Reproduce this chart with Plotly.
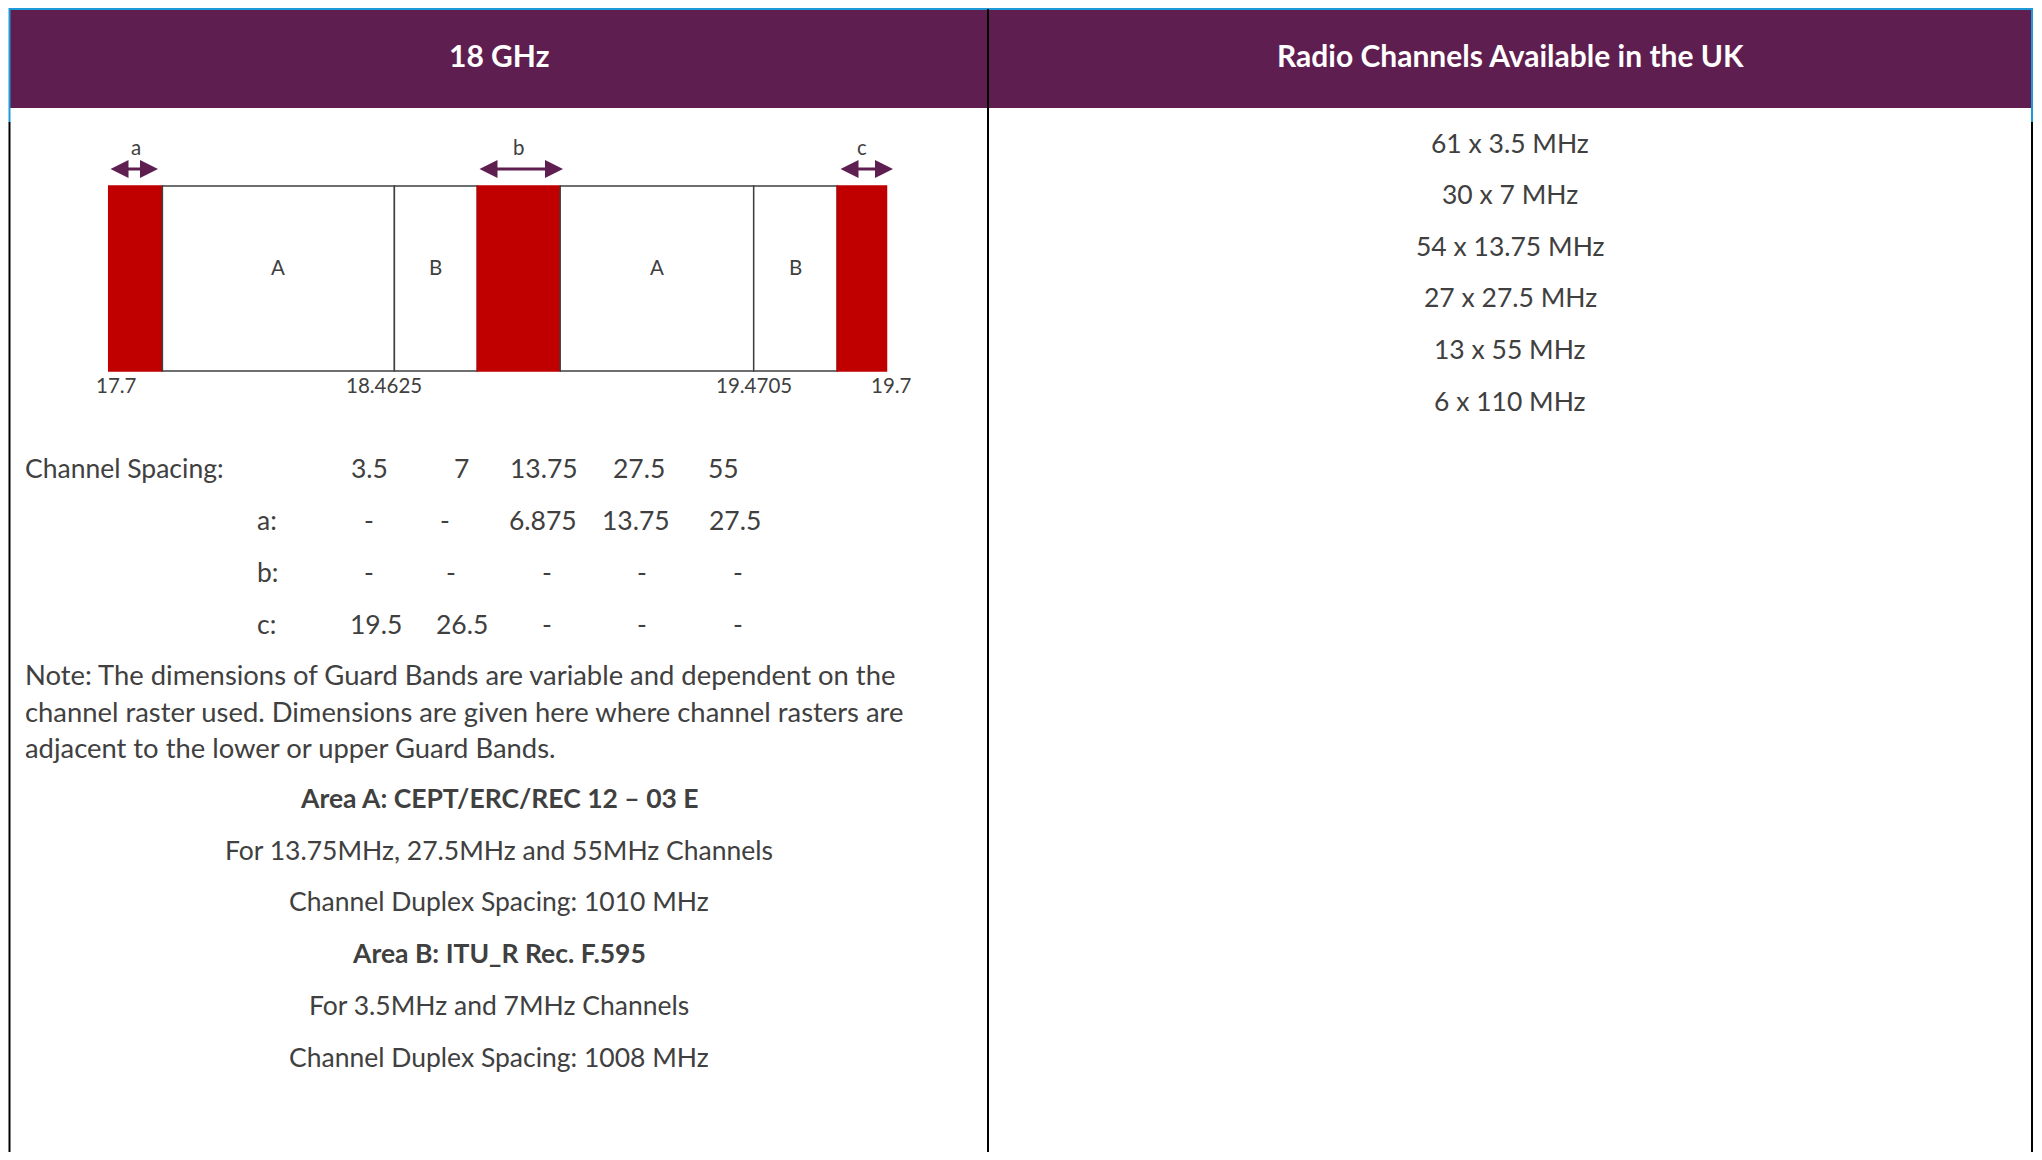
import plotly.graph_objects as go

# page (reference) size and figure size (browser body margin of 8px around figure)
PW, PH = 2042, 1160
OFF = 8
FW, FH = PW - 2 * OFF, PH - 2 * OFF

# ---------------- data ----------------
header_left = "18 GHz"
header_right = "Radio Channels Available in the UK"

# schematic band plan (widths in schematic units, as drawn)
segment_labels = ["a", "A", "B", "b", "A", "B", "c"]
segment_kind = ["guard", "A", "B", "guard", "A", "B", "guard"]
segment_widths = [53.7, 232.0, 82.9, 82.9, 193.5, 83.5, 49.3]
freq_labels = ["17.7", "18.4625", "19.4705", "19.7"]
freq_label_pos = [7.5, 275.5, 645.5, 782.5]
# guard-band arrow extents as drawn (schematic units)
arrow_start = [0.3, 369.3, 730.3]
arrow_end = [49.3, 454.3, 784.3]

table_header = "Channel Spacing:"
channel_spacing = ["3.5", "7", "13.75", "27.5", "55"]
row_names = ["a:", "b:", "c:"]
guard_a = ["-", "-", "6.875", "13.75", "27.5"]
guard_b = ["-", "-", "-", "-", "-"]
guard_c = ["19.5", "26.5", "-", "-", "-"]

note_lines = [
    "Note: The dimensions of Guard Bands are variable and dependent on the",
    "channel raster used. Dimensions are given here where channel rasters are",
    "adjacent to the lower or upper Guard Bands.",
]
info_lines = [
    ("Area A: CEPT/ERC/REC 12 \u2013 03 E", True),
    ("For 13.75MHz, 27.5MHz and 55MHz Channels", False),
    ("Channel Duplex Spacing: 1010 MHz", False),
    ("Area B: ITU_R Rec. F.595", True),
    ("For 3.5MHz and 7MHz Channels", False),
    ("Channel Duplex Spacing: 1008 MHz", False),
]

channel_counts = [61, 30, 54, 27, 13, 6]
channel_sizes = ["3.5", "7", "13.75", "27.5", "55", "110"]

# ---------------- style ----------------
FONT = "Lato"
TXT = "#404040"
PURPLE = "#5F1E50"
RED = "#C00000"
BLUE = "#1E9BD7"
BODY = 26.5
NOTE = 27.4
SMALL = 20.5
HEAD = 30


def X(px):
    return (px - OFF) / FW


def Y(py):
    return 1 - (py - OFF) / FH


fig = go.Figure()

# band plan bars
centers = []
pos = 0.0
for w in segment_widths:
    centers.append(pos + w / 2)
    pos += w
total = pos
colors = [RED if k == "guard" else "white" for k in segment_kind]
line_colors = [RED if k == "guard" else "#404040" for k in segment_kind]
fig.add_trace(go.Bar(
    x=centers, y=[1] * len(centers), width=segment_widths, base=0,
    marker=dict(color=colors, line=dict(color=line_colors, width=1.5)),
    hoverinfo="skip", showlegend=False,
))

# diagram axis geometry (reference pixels)
BOX_L, BOX_R, BOX_T, BOX_B = 108.7, 886.5, 186.0, 371.0
UX = (BOX_R - BOX_L) / total  # px per schematic unit
UY = BOX_B - BOX_T            # px per y unit
DOM_L, DOM_R, DOM_T, DOM_B = 60.0, 940.0, 125.0, 405.0
x_range = [-(BOX_L - DOM_L) / UX, total + (DOM_R - BOX_R) / UX]
y_range = [-(DOM_B - BOX_B) / UY, 1 + (BOX_T - DOM_T) / UY]

annotations = []
# area labels inside boxes
for c, lab, k in zip(centers, segment_labels, segment_kind):
    if k != "guard":
        annotations.append(dict(x=c, y=0.56, xref="x", yref="y", text=lab, showarrow=False,
                                font=dict(family=FONT, size=SMALL, color=TXT)))
# guard band arrows and letters
arrow_y = (BOX_B - 169) / UY
letter_y = (BOX_B - 147) / UY
guard_idx = [i for i, k in enumerate(segment_kind) if k == "guard"]
for gi, s, e in zip(guard_idx, arrow_start, arrow_end):
    annotations.append(dict(x=e, y=arrow_y, ax=s, ay=arrow_y,
                            xref="x", yref="y", axref="x", ayref="y",
                            text="", showarrow=True, arrowside="end+start",
                            arrowhead=2, arrowsize=1.2, arrowwidth=3, arrowcolor=PURPLE))
    annotations.append(dict(x=centers[gi], y=letter_y, xref="x", yref="y",
                            text=segment_labels[gi], showarrow=False,
                            font=dict(family=FONT, size=SMALL, color=TXT)))
# frequency labels
tick_y = -(385 - BOX_B) / UY
for p, lab in zip(freq_label_pos, freq_labels):
    annotations.append(dict(x=p, y=tick_y, xref="x", yref="y", text=lab, showarrow=False,
                            font=dict(family=FONT, size=SMALL, color=TXT)))


def txt(px, py, text, size=BODY, color=TXT, bold=False, anchor="center"):
    annotations.append(dict(
        x=X(px), y=Y(py), xref="paper", yref="paper",
        text=f"<b>{text}</b>" if bold else text, showarrow=False,
        xanchor=anchor, yanchor="middle",
        font=dict(family=FONT, size=size, color=color)))


# headers
txt(499, 55, header_left, size=HEAD, color="white", bold=True)
txt(1510, 55, header_right, size=HEAD, color="white", bold=True)

# table
row_y = [467.5, 519.6, 571.7, 623.8]
cell_x = [
    [369.2, 461.0, 543.7, 638.8, 723.4],
    [368.6, 445.4, 543.0, 636.2, 735.2],
    [368.6, 450.6, 547.0, 642.0, 738.4],
    [375.7, 461.7, 547.0, 642.0, 738.4],
]
txt(23, row_y[0], table_header, anchor="left")
rows = [channel_spacing, guard_a, guard_b, guard_c]
for i, name in enumerate(row_names):
    txt(255, row_y[i + 1], name, anchor="left")
for r, vals in enumerate(rows):
    for cx, v in zip(cell_x[r], vals):
        txt(cx, row_y[r], v)

for i, line in enumerate(note_lines):
    txt(23, 674.6 + i * 36.5, line, size=NOTE, anchor="left")

info_y = [798.3, 850.4, 901.2, 953.3, 1005.4, 1057.4]
for (line, b), yy in zip(info_lines, info_y):
    txt(499, yy, line, bold=b)

right_y = [143.3, 194.0, 246.0, 297.0, 349.0, 401.0]
for n, s, yy in zip(channel_counts, channel_sizes, right_y):
    txt(1510, yy, f"{n} x {s} MHz")

shapes = [
    # header band
    dict(type="rect", xref="paper", yref="paper", x0=X(10), x1=X(2031), y0=Y(108), y1=Y(8.5),
         fillcolor=PURPLE, line=dict(width=0), layer="below"),
    # top blue line
    dict(type="line", xref="paper", yref="paper", x0=X(9), x1=X(2033), y0=Y(9), y1=Y(9),
         line=dict(color=BLUE, width=2)),
    # left border
    dict(type="line", xref="paper", yref="paper", x0=X(9.5), x1=X(9.5), y0=Y(8), y1=Y(122),
         line=dict(color=BLUE, width=2)),
    dict(type="line", xref="paper", yref="paper", x0=X(9.5), x1=X(9.5), y0=Y(122), y1=Y(1170),
         line=dict(color="black", width=2)),
    # right border
    dict(type="line", xref="paper", yref="paper", x0=X(2032), x1=X(2032), y0=Y(8), y1=Y(122),
         line=dict(color=BLUE, width=2)),
    dict(type="line", xref="paper", yref="paper", x0=X(2032), x1=X(2032), y0=Y(122), y1=Y(1170),
         line=dict(color="black", width=2)),
    # divider
    dict(type="line", xref="paper", yref="paper", x0=X(988), x1=X(988), y0=Y(9), y1=Y(1170),
         line=dict(color="black", width=2)),
]

fig.update_layout(
    width=FW, height=FH,
    margin=dict(l=0, r=0, t=0, b=0),
    paper_bgcolor="white", plot_bgcolor="rgba(0,0,0,0)",
    showlegend=False,
    xaxis=dict(domain=[X(DOM_L), X(DOM_R)], range=x_range, showgrid=False, zeroline=False,
               showline=False, showticklabels=False, ticks="", fixedrange=True),
    yaxis=dict(domain=[Y(DOM_B), Y(DOM_T)], range=y_range, showgrid=False, zeroline=False,
               showline=False, showticklabels=False, ticks="", fixedrange=True),
    annotations=annotations,
    shapes=shapes,
    hovermode=False,
)

fig.write_html("out.html")
